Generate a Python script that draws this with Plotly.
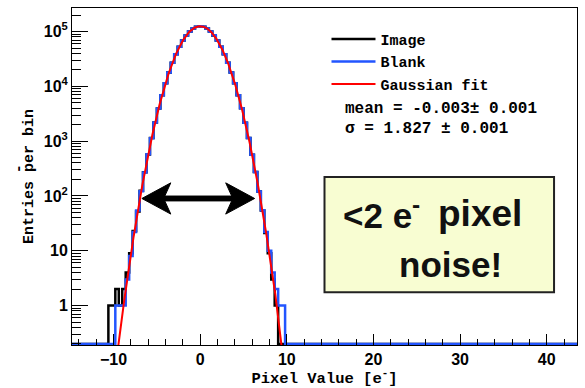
import numpy as np
import plotly.graph_objects as go

# ---- histogram data: pixel values in electrons, bins of 0.4 e- ----
BIN_WIDTH = 0.4
FIRST_BIN_CENTER = -10.4
image_counts = [1, 1, 2, 1, 2, 4, 9, 23, 52, 124, 270, 571, 1138, 2180, 3962,
                6881, 11376, 17944, 26955, 38636, 52746, 68665, 85186, 100755,
                113566, 122044, 124996, 122036, 113575, 100746, 85195, 68652,
                52755, 38625, 26966, 17935, 11385, 6872, 3968, 2175, 1143, 566,
                273, 121, 54, 21, 9, 3, 1, 0, 0, 0]
blank_counts = [0, 0, 1, 1, 1, 3, 8, 22, 54, 122, 268, 574, 1135, 2182, 3958,
                6885, 11372, 17950, 26948, 38640, 52740, 68670, 85180, 100760,
                113560, 122050, 125004, 122030, 113580, 100740, 85200, 68648,
                52760, 38620, 26970, 17930, 11390, 6868, 3972, 2172, 1145, 565,
                275, 120, 55, 22, 10, 4, 2, 1, 1, 0]

# ---- Gaussian fit result ----
fit_mean, fit_mean_err = -0.003, 0.001
fit_sigma, fit_sigma_err = 1.827, 0.001
fit_amplitude = 125000

# ---- axes ----
X_RANGE = [-14.8, 43.5]
Y_LOG_RANGE = [-0.72, 5.43]
y_tickvals = [1, 10, 100, 1e3, 1e4, 1e5]
y_ticktext = ["1", "10", "10<sup>2</sup>", "10<sup>3</sup>", "10<sup>4</sup>", "10<sup>5</sup>"]

W, H = 585, 388
ML, MR, MT, MB = 72, 7, 7, 36
PW, PH = W - ML - MR, H - MT - MB

MONO = "Liberation Mono"
SANS = "Liberation Sans"

# empty bins sit on the bottom edge of the log frame
floor_val = 10 ** (Y_LOG_RANGE[0] + 0.02)


def step_trace(counts, name, color):
    n = len(counts)
    left_edges = [FIRST_BIN_CENTER - BIN_WIDTH / 2 + i * BIN_WIDTH for i in range(n)]
    right_end = left_edges[-1] + BIN_WIDTH
    ys = [c if c > 0 else floor_val for c in counts]
    xs = [X_RANGE[0]] + left_edges + [right_end, X_RANGE[1]]
    ys = [floor_val] + ys + [floor_val, floor_val]
    return go.Scatter(x=xs, y=ys, mode="lines", name=name,
                      line=dict(color=color, width=2.5, shape="hv"),
                      hoverinfo="skip")


fit_x = np.linspace(-12, 12, 961)
fit_y = fit_amplitude * np.exp(-((fit_x - fit_mean) ** 2) / (2 * fit_sigma ** 2))

fig = go.Figure()
fig.add_trace(step_trace(image_counts, "Image", "#000000"))
fig.add_trace(step_trace(blank_counts, "Blank", "#2255ff"))
fig.add_trace(go.Scatter(x=fit_x, y=fit_y, mode="lines", name="Gaussian fit",
                         line=dict(color="#ff0000", width=2), hoverinfo="skip"))


def px(x):
    return (x - ML) / PW


def py(y):
    return (H - MB - y) / PH


# double-headed arrow spanning the noise width
arrow_pts = [(142, 202), (171, 186), (165, 199.5), (232, 199.5), (226, 186),
             (255, 202), (226, 218), (232, 204.5), (165, 204.5), (171, 218)]
arrow_path = "M " + " L ".join(f"{px(a):.5f},{py(b):.5f}" for a, b in arrow_pts) + " Z"

shapes = [
    dict(type="path", xref="paper", yref="paper", path=arrow_path,
         fillcolor="black", line=dict(color="black", width=1)),
    dict(type="rect", xref="paper", yref="paper",
         x0=px(325), x1=px(555), y0=py(298), y1=py(180),
         fillcolor="#f8fdd2", line=dict(color="#222222", width=2)),
]

stat_font = dict(family=MONO, size=16, color="black", weight="bold")
box_font = dict(family=SANS, size=35, color="#111111", weight="bold")


def box_text(text, x, y, anchor="center", font=box_font):
    return dict(text=text, xref="paper", yref="paper", x=px(x), y=py(y),
                xanchor=anchor, yanchor="middle", showarrow=False, font=font)


annotations = [
    dict(text=f"mean = {fit_mean:.3f}\u00b1 {fit_mean_err:.3f}", xref="paper", yref="paper",
         x=px(344), y=py(110), xanchor="left", yanchor="middle", showarrow=False,
         font=stat_font),
    dict(text=f"\u03c3 = {fit_sigma:.3f} \u00b1 {fit_sigma_err:.3f}", xref="paper", yref="paper",
         x=px(344), y=py(131), xanchor="left", yanchor="middle", showarrow=False,
         font=stat_font),
    box_text("<2 e<sup>-</sup>", 342, 217, anchor="left"),
    box_text("pixel", 481, 217, font=dict(box_font, size=37)),
    box_text("noise!", 451, 270),
    dict(text="-", xref="paper", yref="paper", textangle=-90,
         x=px(19), y=py(172), xanchor="center", yanchor="middle", showarrow=False,
         font=dict(family=MONO, size=15, color="black", weight="bold")),
]

fig.update_layout(
    width=W, height=H,
    margin=dict(l=ML, r=MR, t=MT, b=MB),
    paper_bgcolor="white", plot_bgcolor="white",
    showlegend=True,
    legend=dict(x=px(327), y=py(22), xanchor="left", yanchor="top",
                bgcolor="rgba(0,0,0,0)", itemwidth=44,
                font=dict(family=MONO, size=15, color="black", weight="bold")),
    shapes=shapes,
    annotations=annotations,
)

fig.update_xaxes(
    range=X_RANGE, showgrid=False, zeroline=False,
    showline=True, linecolor="black", linewidth=1, mirror=True,
    ticks="inside", tickcolor="black", ticklen=11, dtick=10, tick0=0,
    minor=dict(ticks="inside", dtick=2, ticklen=6, tickcolor="black"),
    tickfont=dict(family=SANS, size=16, color="black", weight="bold"),
    title=dict(text="Pixel Value [e<sup>-</sup>]", standoff=2,
               font=dict(family=MONO, size=15.5, color="black", weight="bold")),
)
fig.update_yaxes(
    type="log", range=Y_LOG_RANGE, showgrid=False, zeroline=False,
    showline=True, linecolor="black", linewidth=1, mirror=True,
    ticks="inside", tickcolor="black", ticklen=16,
    tickvals=y_tickvals, ticktext=y_ticktext,
    minor=dict(ticks="inside", dtick="D1", ticklen=9, tickcolor="black"),
    tickfont=dict(family=SANS, size=16, color="black", weight="bold"),
    title=dict(text="Entries per bin", standoff=6,
               font=dict(family=MONO, size=15, color="black", weight="bold")),
)

fig.write_html("out.html")
